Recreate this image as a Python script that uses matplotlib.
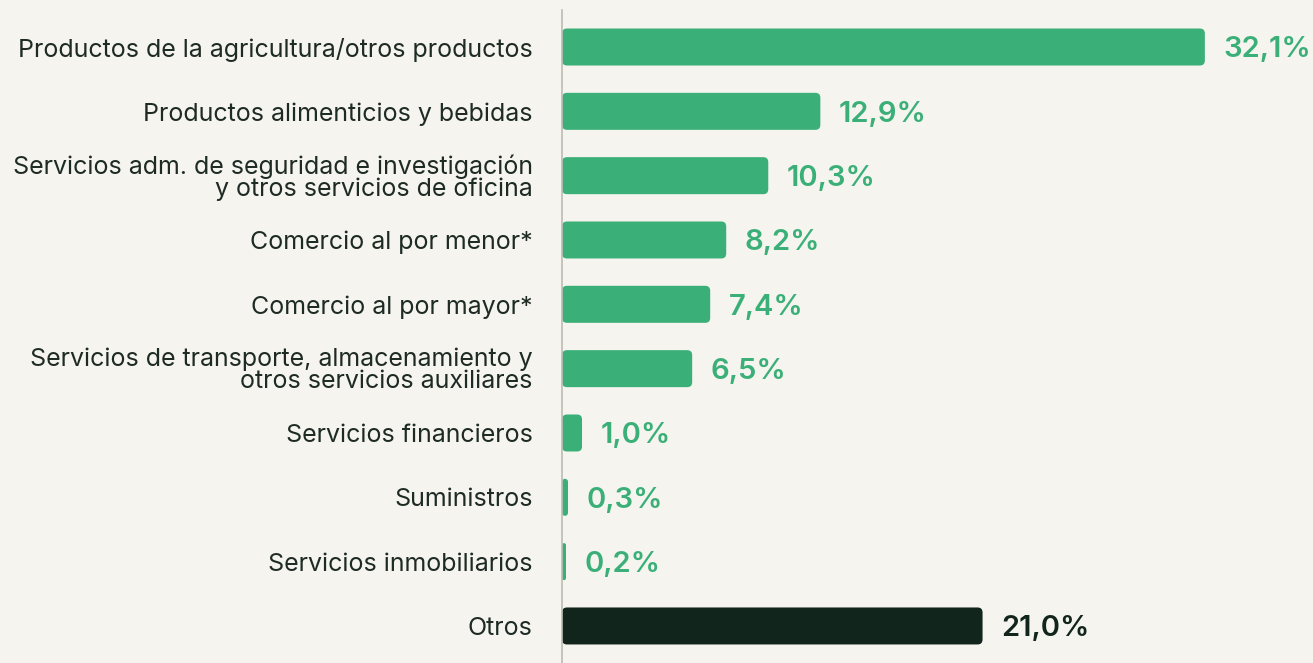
import matplotlib.pyplot as plt
from matplotlib.patches import FancyBboxPatch

# categories, top to bottom
categories = [
    "Productos de la agricultura/otros productos",
    "Productos alimenticios y bebidas",
    "Servicios adm. de seguridad e investigación\ny otros servicios de oficina",
    "Comercio al por menor*",
    "Comercio al por mayor*",
    "Servicios de transporte, almacenamiento y\notros servicios auxiliares",
    "Servicios financieros",
    "Suministros",
    "Servicios inmobiliarios",
    "Otros",
]
values = [32.1, 12.9, 10.3, 8.2, 7.4, 6.5, 1.0, 0.3, 0.2, 21.0]
value_labels = ["32,1%", "12,9%", "10,3%", "8,2%", "7,4%", "6,5%", "1,0%", "0,3%", "0,2%", "21,0%"]

BG = "#f5f4ef"
GREEN = "#3aaf77"
DARK = "#12251d"
TEXT = "#1e2b24"
colors = [GREEN] * 9 + [DARK]

W, H = 1313, 663
fig = plt.figure(figsize=(W / 100, H / 100), dpi=100, facecolor=BG)
ax = fig.add_axes([562 / W, 0, 751 / W, 653 / H])
ax.set_facecolor(BG)

XMAX = 37.5
ROW = 64.33
ax.set_xlim(0, XMAX)
ax.set_ylim((663 - 47) / ROW, (10 - 47) / ROW)

# pixel -> data conversions, used for rounded corners
px_x = XMAX / 751
px_y = ((663 - 47) / ROW - (10 - 47) / ROW) / 653
bar_h = 37 / ROW
radius = 5

for i, (v, c) in enumerate(zip(values, colors)):
    r = min(radius * px_x, v / 2)
    patch = FancyBboxPatch((0, i - bar_h / 2), v, bar_h,
                           boxstyle=f"round,pad=0,rounding_size={r}",
                           mutation_aspect=px_y / px_x,
                           facecolor=c, edgecolor="none", zorder=2)
    ax.add_patch(patch)
    ax.annotate(value_labels[i], (v, i), xytext=(13.5, -2), textcoords="offset points",
                ha="left", va="center", fontsize=21, fontweight="semibold",
                fontfamily="Inter", color=c, zorder=3)

ax.set_yticks(range(len(categories)))
ax.set_yticklabels(categories, fontsize=18, fontfamily="Inter", color=TEXT,
                   linespacing=0.95)
ax.tick_params(axis="y", length=0, pad=21)
ax.set_xticks([])

for s in ["top", "right", "bottom"]:
    ax.spines[s].set_visible(False)
ax.spines["left"].set_color("#bdbcb4")
ax.spines["left"].set_linewidth(1.2)

fig.savefig("out.png", dpi=100, facecolor=BG)
